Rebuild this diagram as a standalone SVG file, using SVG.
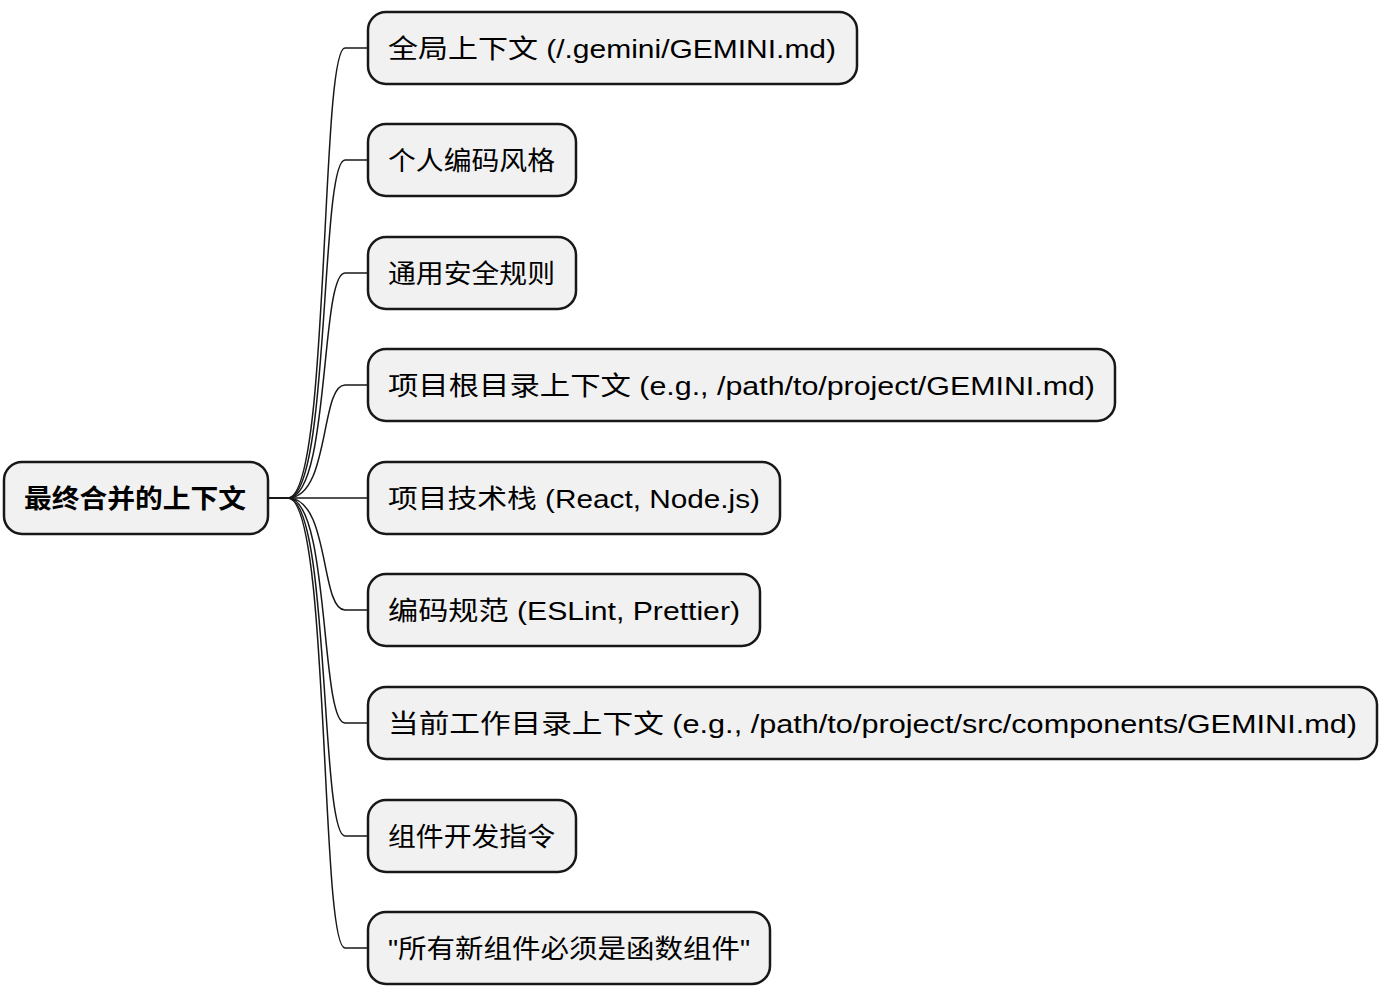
<svg xmlns="http://www.w3.org/2000/svg" width="1386" height="1000" viewBox="0 0 1386 1000">
<style>
rect{fill:#f1f1f1;stroke:#181818;stroke-width:2.5}
text{font-family:"Liberation Sans","Noto Sans CJK SC",sans-serif;font-size:26px;fill:#000}
.b{font-weight:bold}
#edges path{fill:none;stroke:#181818;stroke-width:1.5}
</style>
<rect x="0" y="0" width="1386" height="1000" style="fill:#fff;stroke:none"/>
<g id="edges">
<path d="M268,498 H288 C330,498 320,48 345,48 H368"/>
<path d="M268,498 H288 C330,498 320,160 345,160 H368"/>
<path d="M268,498 H288 C330,498 320,273 345,273 H368"/>
<path d="M268,498 H288 C330,498 320,385 345,385 H368"/>
<path d="M268,498 H368"/>
<path d="M268,498 H288 C330,498 320,610 345,610 H368"/>
<path d="M268,498 H288 C330,498 320,723 345,723 H368"/>
<path d="M268,498 H288 C330,498 320,836 345,836 H368"/>
<path d="M268,498 H288 C330,498 320,948 345,948 H368"/>
</g>
<g id="root"><rect x="4" y="462" width="264" height="72" rx="18"/><text class="b" x="24" y="508" textLength="222" lengthAdjust="spacingAndGlyphs">最终合并的上下文</text></g>
<g id="n1"><rect x="368" y="12" width="489" height="72" rx="18"/><text x="388" y="58" textLength="448" lengthAdjust="spacingAndGlyphs">全局上下文 (/.gemini/GEMINI.md)</text></g>
<g id="n2"><rect x="368" y="124" width="208" height="72" rx="18"/><text x="388" y="170" textLength="167" lengthAdjust="spacingAndGlyphs">个人编码风格</text></g>
<g id="n3"><rect x="368" y="237" width="208" height="72" rx="18"/><text x="388" y="283" textLength="167" lengthAdjust="spacingAndGlyphs">通用安全规则</text></g>
<g id="n4"><rect x="368" y="349" width="747" height="72" rx="18"/><text x="388" y="395" textLength="707" lengthAdjust="spacingAndGlyphs">项目根目录上下文 (e.g., /path/to/project/GEMINI.md)</text></g>
<g id="n5"><rect x="368" y="462" width="412" height="72" rx="18"/><text x="388" y="508" textLength="372" lengthAdjust="spacingAndGlyphs">项目技术栈 (React, Node.js)</text></g>
<g id="n6"><rect x="368" y="574" width="392" height="72" rx="18"/><text x="388" y="620" textLength="352" lengthAdjust="spacingAndGlyphs">编码规范 (ESLint, Prettier)</text></g>
<g id="n7"><rect x="368" y="687" width="1009" height="72" rx="18"/><text x="388" y="733" textLength="969" lengthAdjust="spacingAndGlyphs">当前工作目录上下文 (e.g., /path/to/project/src/components/GEMINI.md)</text></g>
<g id="n8"><rect x="368" y="800" width="208" height="72" rx="18"/><text x="388" y="846" textLength="167" lengthAdjust="spacingAndGlyphs">组件开发指令</text></g>
<g id="n9"><rect x="368" y="912" width="402" height="72" rx="18"/><text x="388" y="958" textLength="362" lengthAdjust="spacingAndGlyphs">"所有新组件必须是函数组件"</text></g>
</svg>
